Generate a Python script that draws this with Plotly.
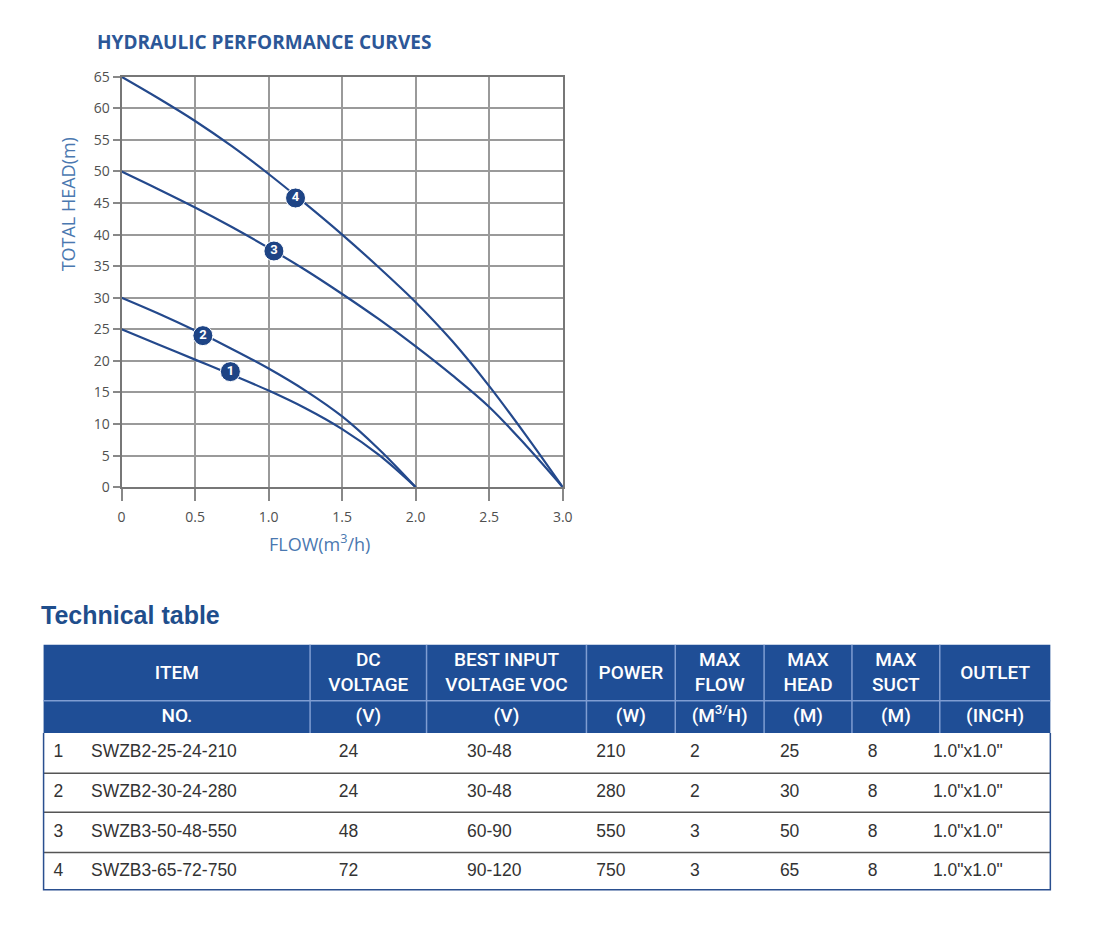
import plotly.graph_objects as go

# ---------------- data ----------------
flow_q = [0, 0.25, 0.5, 0.75, 1.0, 1.25, 1.5, 1.75, 2.0]
head_1 = [25, 22.6, 20.2, 17.8, 15.3, 12.5, 9.2, 5.1, 0]
head_2 = [30, 27.5, 24.8, 21.9, 18.8, 15.3, 11.2, 6.0, 0]
flow_h = [0, 0.25, 0.5, 0.75, 1.0, 1.25, 1.5, 1.75, 2.0, 2.25, 2.5, 2.75, 3.0]
head_3 = [50, 47.2, 44.3, 41.2, 37.9, 34.4, 30.6, 26.6, 22.3, 17.7, 12.7, 6.6, 0]
head_4 = [65, 61.6, 58.0, 54.0, 49.6, 44.9, 40.0, 34.8, 29.3, 23.1, 16.0, 8.2, 0]

label_ids = ["1", "2", "3", "4"]
label_flow = [0.74, 0.553, 1.036, 1.183]
label_head = [18.3, 24.0, 37.4, 45.8]

x_tickvals = [0, 0.5, 1.0, 1.5, 2.0, 2.5, 3.0]
x_ticktext = ["0", "0.5", "1.0", "1.5", "2.0", "2.5", "3.0"]
y_tickvals = list(range(0, 70, 5))

header_top = ["ITEM", "DC<br>VOLTAGE", "BEST INPUT<br>VOLTAGE VOC", "POWER",
              "MAX<br>FLOW", "MAX<br>HEAD", "MAX<br>SUCT", "OUTLET"]
header_units = ["NO.", "(V)", "(V)", "(W)", "(M<sup>3/</sup>H)", "(M)", "(M)", "(INCH)"]

item_no = ["1", "2", "3", "4"]
model = ["SWZB2-25-24-210", "SWZB2-30-24-280", "SWZB3-50-48-550", "SWZB3-65-72-750"]
dc_voltage = ["24", "24", "48", "72"]
best_input = ["30-48", "30-48", "60-90", "90-120"]
power = ["210", "280", "550", "750"]
max_flow = ["2", "2", "3", "3"]
max_head = ["25", "30", "50", "65"]
max_suct = ["8", "8", "8", "8"]
outlet = ['1.0"x1.0"'] * 4

# ---------------- style / layout constants ----------------
OFF = 8                      # page body margin
FW, FH = 1094 - 2 * OFF, 942 - 2 * OFF


def px(X):
    return (X - OFF) / FW


def py(Y):
    return 1 - (Y - OFF) / FH


PX0, PX1, PY0, PY1 = 119, 566, 68, 487   # plot area (window pixels)
NAVY = "#24498c"
HDR = "#1f4e96"
HDR_LINE = "#7f9dd2"
TEXT_BLUE = "#4a78b0"

fig = go.Figure()

for fx, hy in [(flow_q, head_1), (flow_q, head_2), (flow_h, head_3), (flow_h, head_4)]:
    fig.add_trace(go.Scatter(x=fx, y=hy, mode="lines",
                             line=dict(color=NAVY, width=2.2, shape="spline", smoothing=1.0),
                             hoverinfo="skip", showlegend=False, cliponaxis=False))

fig.add_trace(go.Scatter(x=label_flow, y=label_head, mode="markers+text", text=label_ids,
                         textposition="middle center",
                         textfont=dict(family="Roboto", size=13, color="white", weight="bold"),
                         marker=dict(size=20, color="#1e4485", line=dict(color="white", width=1)),
                         showlegend=False, cliponaxis=False, hoverinfo="skip"))

# ---------------- table on a pixel-mapped axis pair ----------------
col_edges = [40, 310, 428, 590, 680, 770, 859, 948, 1060]
col_centers = [(col_edges[i] + col_edges[i + 1]) / 2 for i in range(8)]
col_centers[0] = 175
hdr_top, hdr_mid, hdr_bot = 648, 705, 738
row_lines = [738, 779, 819, 860, 898]
row_centers = [(row_lines[i] + row_lines[i + 1]) / 2 for i in range(4)]
body_x = [50, 88, 339, 469, 600, 695, 786, 875, 941]

hfont = dict(family="Roboto", size=19, color="white", weight=500)
fig.add_trace(go.Scatter(x=col_centers, y=[(hdr_top + hdr_mid) / 2 + 1] * 8, mode="text",
                         text=header_top, textfont=hfont, textposition="middle center",
                         xaxis="x2", yaxis="y2", showlegend=False, hoverinfo="skip",
                         cliponaxis=False))
fig.add_trace(go.Scatter(x=col_centers, y=[(hdr_mid + hdr_bot) / 2] * 8, mode="text",
                         text=header_units, textfont=hfont, textposition="middle center",
                         xaxis="x2", yaxis="y2", showlegend=False, hoverinfo="skip",
                         cliponaxis=False))

bfont = dict(family="Liberation Sans", size=17.5, color="#333333")
body_cols = [item_no, model, dc_voltage, best_input, power, max_flow, max_head, max_suct, outlet]
for bx, vals in zip(body_x, body_cols):
    fig.add_trace(go.Scatter(x=[bx] * len(vals), y=row_centers, mode="text", text=vals,
                             textfont=bfont, textposition="middle right",
                             xaxis="x2", yaxis="y2", showlegend=False, hoverinfo="skip",
                             cliponaxis=False))

shapes = []
shapes.append(dict(type="rect", xref="x2", yref="y2", x0=col_edges[0], x1=col_edges[-1],
                   y0=hdr_top, y1=hdr_bot, fillcolor=HDR, line=dict(width=0), layer="below"))
shapes.append(dict(type="line", xref="x2", yref="y2", x0=col_edges[0], x1=col_edges[-1],
                   y0=hdr_mid, y1=hdr_mid, line=dict(color=HDR_LINE, width=1.5), layer="below"))
for xe in col_edges[1:-1]:
    shapes.append(dict(type="line", xref="x2", yref="y2", x0=xe, x1=xe,
                       y0=hdr_top, y1=hdr_bot, line=dict(color=HDR_LINE, width=1.5), layer="below"))
for yl in row_lines[1:-1]:
    shapes.append(dict(type="line", xref="x2", yref="y2", x0=col_edges[0], x1=col_edges[-1],
                       y0=yl, y1=yl, line=dict(color="#555555", width=1.5), layer="below"))
shapes.append(dict(type="path", xref="x2", yref="y2",
                   path=f"M {col_edges[0]} {hdr_bot} L {col_edges[0]} {row_lines[-1]} "
                        f"L {col_edges[-1]} {row_lines[-1]} L {col_edges[-1]} {hdr_bot}",
                   line=dict(color="#2a4f8f", width=1.5), layer="below"))

annotations = [
    dict(text="HYDRAULIC PERFORMANCE CURVES", xref="paper", yref="paper",
         x=px(92), y=py(32), xanchor="left", yanchor="middle", showarrow=False,
         font=dict(family="Open Sans", size=19, color="#2c5797", weight="bold")),
    dict(text="TOTAL HEAD(m)", xref="paper", yref="paper", x=px(65), y=py(198),
         xanchor="center", yanchor="middle", textangle=-90, showarrow=False,
         font=dict(family="Open Sans", size=18, color=TEXT_BLUE)),
    dict(text="FLOW(m<sup>3</sup>/h)", xref="paper", yref="paper", x=px(320), y=py(544),
         xanchor="center", yanchor="middle", showarrow=False,
         font=dict(family="Open Sans", size=18, color=TEXT_BLUE)),
    dict(text="<b>Technical table</b>", xref="paper", yref="paper", x=px(35), y=py(617),
         xanchor="left", yanchor="middle", showarrow=False,
         font=dict(family="Liberation Sans", size=25, color="#1f4e8c")),
]

tickfont = dict(family="Open Sans", size=14, color="#505050")
fig.update_layout(
    width=FW, height=FH, autosize=False,
    margin=dict(l=0, r=0, t=0, b=0),
    paper_bgcolor="white", plot_bgcolor="rgba(0,0,0,0)",
    showlegend=False,
    xaxis=dict(domain=[px(PX0), px(PX1)], range=[0, 3], tickvals=x_tickvals, ticktext=x_ticktext,
               showgrid=True, gridcolor="#9a9a9a", gridwidth=1.5, zeroline=False,
               showline=True, linecolor="#777777", linewidth=2, mirror=True,
               ticks="outside", ticklen=12, tickcolor="#888888", tickwidth=1.5,
               ticklabelstandoff=4, tickfont=tickfont, anchor="y"),
    yaxis=dict(domain=[py(PY1), py(PY0)], range=[0, 65], tickvals=y_tickvals,
               showgrid=True, gridcolor="#9a9a9a", gridwidth=1.5, zeroline=False,
               showline=True, linecolor="#777777", linewidth=2, mirror=True,
               ticks="outside", ticklen=7, tickcolor="#888888", tickwidth=1.5,
               tickfont=tickfont, anchor="x"),
    xaxis2=dict(domain=[0, 1], range=[OFF, OFF + FW], visible=False, anchor="y2", fixedrange=True),
    yaxis2=dict(domain=[0, 1], range=[OFF + FH, OFF], visible=False, anchor="x2", fixedrange=True),
    shapes=shapes,
    annotations=annotations,
)

fig.write_html("out.html")
